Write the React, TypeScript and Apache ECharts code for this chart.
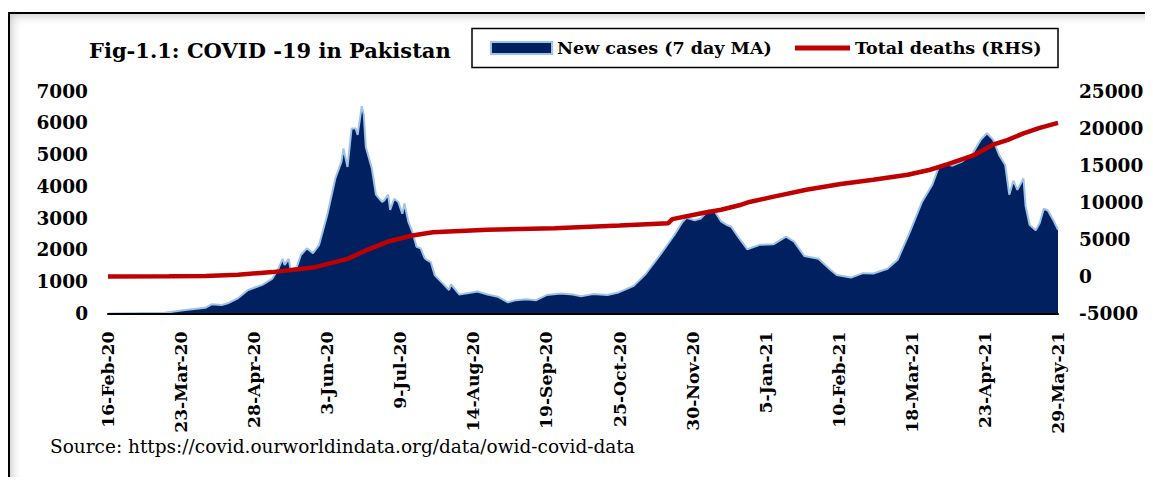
import React, { useEffect, useRef } from "react";
import * as echarts from "echarts";

const FONT = "DejaVu Serif";
const TITLE = "Fig-1.1: COVID -19 in Pakistan";
const SOURCE = "Source: https://covid.ourworldindata.org/data/owid-covid-data";
const CASES_NAME = "New cases (7 day MA)";
const DEATHS_NAME = "Total deaths (RHS)";

const START_DATE = "2020-02-16";
const END_DATE = "2021-05-29";
const TICK_STEP_DAYS = 36;
const LEFT_AXIS = [0, 7000, 1000];
const RIGHT_AXIS = [-5000, 25000, 5000];
const MONTHS = ["Jan", "Feb", "Mar", "Apr", "May", "Jun", "Jul", "Aug", "Sep", "Oct", "Nov", "Dec"];

const caseDates = [
  "2020-02-16", "2020-03-15", "2020-03-25", "2020-04-04", "2020-04-07", "2020-04-12", "2020-04-15",
  "2020-04-20", "2020-04-25", "2020-05-02", "2020-05-07", "2020-05-10", "2020-05-12", "2020-05-13",
  "2020-05-15", "2020-05-16", "2020-05-19", "2020-05-21", "2020-05-24", "2020-05-27", "2020-05-30",
  "2020-06-03", "2020-06-07", "2020-06-10", "2020-06-11", "2020-06-13", "2020-06-15", "2020-06-17",
  "2020-06-18", "2020-06-20", "2020-06-21", "2020-06-22", "2020-06-25", "2020-06-27", "2020-06-30",
  "2020-07-01", "2020-07-03", "2020-07-04", "2020-07-06", "2020-07-08", "2020-07-10", "2020-07-11",
  "2020-07-13", "2020-07-15", "2020-07-17", "2020-07-19", "2020-07-21", "2020-07-22", "2020-07-24",
  "2020-07-26", "2020-07-30", "2020-08-02", "2020-08-03", "2020-08-07", "2020-08-11", "2020-08-16",
  "2020-08-21", "2020-08-26", "2020-08-31", "2020-09-04", "2020-09-09", "2020-09-14", "2020-09-19",
  "2020-09-26", "2020-10-02", "2020-10-06", "2020-10-12", "2020-10-19", "2020-10-24", "2020-11-01",
  "2020-11-07", "2020-11-14", "2020-11-21", "2020-11-25", "2020-11-27", "2020-12-01", "2020-12-04",
  "2020-12-08", "2020-12-11", "2020-12-14", "2020-12-17", "2020-12-19", "2020-12-23", "2020-12-27",
  "2021-01-02", "2021-01-09", "2021-01-15", "2021-01-19", "2021-01-24", "2021-01-31", "2021-02-06",
  "2021-02-09", "2021-02-16", "2021-02-22", "2021-02-27", "2021-03-06", "2021-03-11", "2021-03-17",
  "2021-03-23", "2021-03-28", "2021-03-31", "2021-04-03", "2021-04-07", "2021-04-12", "2021-04-17",
  "2021-04-21", "2021-04-24", "2021-04-27", "2021-04-30", "2021-05-03", "2021-05-05", "2021-05-07",
  "2021-05-09", "2021-05-12", "2021-05-13", "2021-05-15", "2021-05-18", "2021-05-20", "2021-05-22",
  "2021-05-24", "2021-05-27", "2021-05-29",
];
const caseValues = [
  0, 20, 110, 180, 290, 270, 320,
  480, 740, 900, 1100, 1420, 1720, 1530,
  1720, 1370, 1460, 1840, 2050, 1900, 2160,
  3100, 4250, 4770, 5190, 4610, 5820, 5820,
  5620, 6520, 6260, 5240, 4560, 3740, 3510,
  3550, 3740, 3260, 3610, 3510, 3140, 3460,
  2880, 2560, 2100, 2050, 1740, 1690, 1620,
  1200, 940, 740, 920, 600, 640, 690,
  600, 530, 350, 420, 450, 420, 580,
  630, 600, 540, 610, 580, 650, 870,
  1250, 1840, 2470, 2880, 3010, 2930, 2990,
  3260, 3200, 2900, 2780, 2730, 2360, 2020,
  2160, 2180, 2420, 2260, 1810, 1720, 1370,
  1210, 1130, 1270, 1260, 1410, 1690, 2560,
  3510, 4040, 4560, 4720, 4650, 4790, 5040,
  5470, 5670, 5470, 4990, 4670, 3740, 4180,
  3890, 4250, 3400, 2790, 2620, 2850, 3300,
  3240, 2900, 2630,
];

const deathDates = [
  "2020-02-16", "2020-03-17", "2020-04-04", "2020-04-20", "2020-05-07", "2020-05-28", "2020-06-13",
  "2020-06-22", "2020-07-03", "2020-07-15", "2020-07-25", "2020-08-21", "2020-09-23", "2020-10-25",
  "2020-11-18", "2020-11-20", "2020-12-05", "2020-12-14", "2020-12-23", "2020-12-28", "2021-01-09",
  "2021-01-25", "2021-02-11", "2021-02-27", "2021-03-16", "2021-03-27", "2021-04-04", "2021-04-17",
  "2021-04-27", "2021-05-04", "2021-05-12", "2021-05-20", "2021-05-29",
];
const deathValues = [
  0, 10, 70, 230, 580, 1250, 2370,
  3500, 4700, 5510, 5960, 6280, 6500, 6860,
  7180, 7730, 8540, 8990, 9590, 10040, 10760,
  11690, 12460, 13040, 13710, 14380, 15060, 16280,
  17760, 18380, 19280, 20030, 20710,
];

function toUTC(s: string): number {
  const [y, m, d] = s.split("-").map(Number);
  return Date.UTC(y, m - 1, d);
}
const START_MS = toUTC(START_DATE);
const TOTAL_DAYS = Math.round((toUTC(END_DATE) - START_MS) / 86400000);
function dayIndex(s: string): number {
  return Math.round((toUTC(s) - START_MS) / 86400000);
}
function dayLabel(v: number): string {
  const dt = new Date(START_MS + Math.round(v) * 86400000);
  const yy = String(dt.getUTCFullYear()).slice(2);
  return `${dt.getUTCDate()}-${MONTHS[dt.getUTCMonth()]}-${yy}`;
}

const boldLabel = { fontFamily: FONT, fontWeight: "bold" as const, fontSize: 18.5, color: "#000" };
const legendText = { fontFamily: FONT, fontWeight: "bold" as const, fontSize: 17.5, color: "#000" };

export default function App() {
  const ref = useRef<HTMLDivElement>(null);
  useEffect(() => {
    document.body.style.overflow = "hidden";
    if (!ref.current) return;
    const chart = echarts.init(ref.current, undefined, { renderer: "svg" });
    const casesData = caseDates.map((d, i) => [dayIndex(d), caseValues[i]]);
    const deathsData = deathDates.map((d, i) => [dayIndex(d), deathValues[i]]);
    chart.setOption({
      animation: false,
      textStyle: { fontFamily: FONT },
      title: {
        text: TITLE,
        left: 81,
        top: 32,
        padding: 0,
        textStyle: { fontFamily: FONT, fontWeight: "bold", fontSize: 21, color: "#000" },
      },
      legend: [
        {
          left: 482,
          top: 31,
          padding: 0,
          itemWidth: 61,
          itemHeight: 12,
          selectedMode: false,
          textStyle: legendText,
          data: [
            {
              name: CASES_NAME,
              icon: "rect",
              itemStyle: { color: "#002060", borderColor: "#9DC3E6", borderWidth: 2 },
            },
          ],
        },
        {
          left: 787,
          top: 31,
          padding: 0,
          itemWidth: 55,
          itemHeight: 5,
          selectedMode: false,
          textStyle: legendText,
          data: [{ name: DEATHS_NAME, icon: "rect", itemStyle: { color: "#C00000" } }],
        },
      ],
      grid: { left: 100, right: 95, top: 83, bottom: 171.5, containLabel: false },
      xAxis: {
        type: "value",
        min: 0,
        max: TOTAL_DAYS,
        interval: TICK_STEP_DAYS,
        z: 5,
        axisLine: { show: true, onZero: false, lineStyle: { color: "#000", width: 2 } },
        axisTick: { show: false },
        splitLine: { show: false },
        axisLabel: {
          ...boldLabel,
          fontSize: 17.2,
          rotate: 90,
          margin: 18,
          padding: [8, 0, 0, 0],
          formatter: (v: number) => dayLabel(v),
        },
      },
      yAxis: [
        {
          type: "value",
          position: "left",
          min: LEFT_AXIS[0],
          max: LEFT_AXIS[1],
          interval: LEFT_AXIS[2],
          axisLine: { show: false },
          axisTick: { show: false },
          splitLine: { show: false },
          axisLabel: { ...boldLabel, margin: 20, formatter: (v: number) => String(v) },
        },
        {
          type: "value",
          position: "right",
          min: RIGHT_AXIS[0],
          max: RIGHT_AXIS[1],
          interval: RIGHT_AXIS[2],
          axisLine: { show: false },
          axisTick: { show: false },
          splitLine: { show: false },
          axisLabel: { ...boldLabel, margin: 21, formatter: (v: number) => String(v) },
        },
      ],
      series: [
        {
          name: CASES_NAME,
          type: "line",
          yAxisIndex: 0,
          data: casesData,
          symbol: "none",
          z: 2,
          lineStyle: { color: "#9DC3E6", width: 2 },
          itemStyle: { color: "#002060" },
          areaStyle: { color: "#002060", opacity: 1 },
        },
        {
          name: DEATHS_NAME,
          type: "line",
          yAxisIndex: 1,
          data: deathsData,
          symbol: "none",
          z: 3,
          lineStyle: { color: "#C00000", width: 4.5 },
          itemStyle: { color: "#C00000" },
        },
      ],
      graphic: [
        {
          type: "rect",
          z: 0,
          shape: { x: 464, y: 20.5, width: 586, height: 39 },
          style: { fill: "#fff", stroke: "#000", lineWidth: 1.5 },
        },
        {
          type: "text",
          left: 42,
          top: 429,
          style: { text: SOURCE, fontFamily: FONT, fontSize: 18.5, fill: "#000" },
        },
      ],
    });
    return () => chart.dispose();
  }, []);

  return (
    <div style={{ position: "relative", width: 1145, height: 477, overflow: "hidden", marginBottom: -8 }}>
      <div
        style={{
          position: "absolute",
          left: 0,
          top: 4,
          width: 1154,
          height: 478,
          boxSizing: "border-box",
          border: "2px solid #000",
          boxShadow: "inset 0 0 10px 2px rgba(0,0,0,0.22)",
          background: "#fff",
        }}
      />
      <div ref={ref} style={{ position: "absolute", left: 0, top: 0, width: 1145, height: 477 }} />
    </div>
  );
}
